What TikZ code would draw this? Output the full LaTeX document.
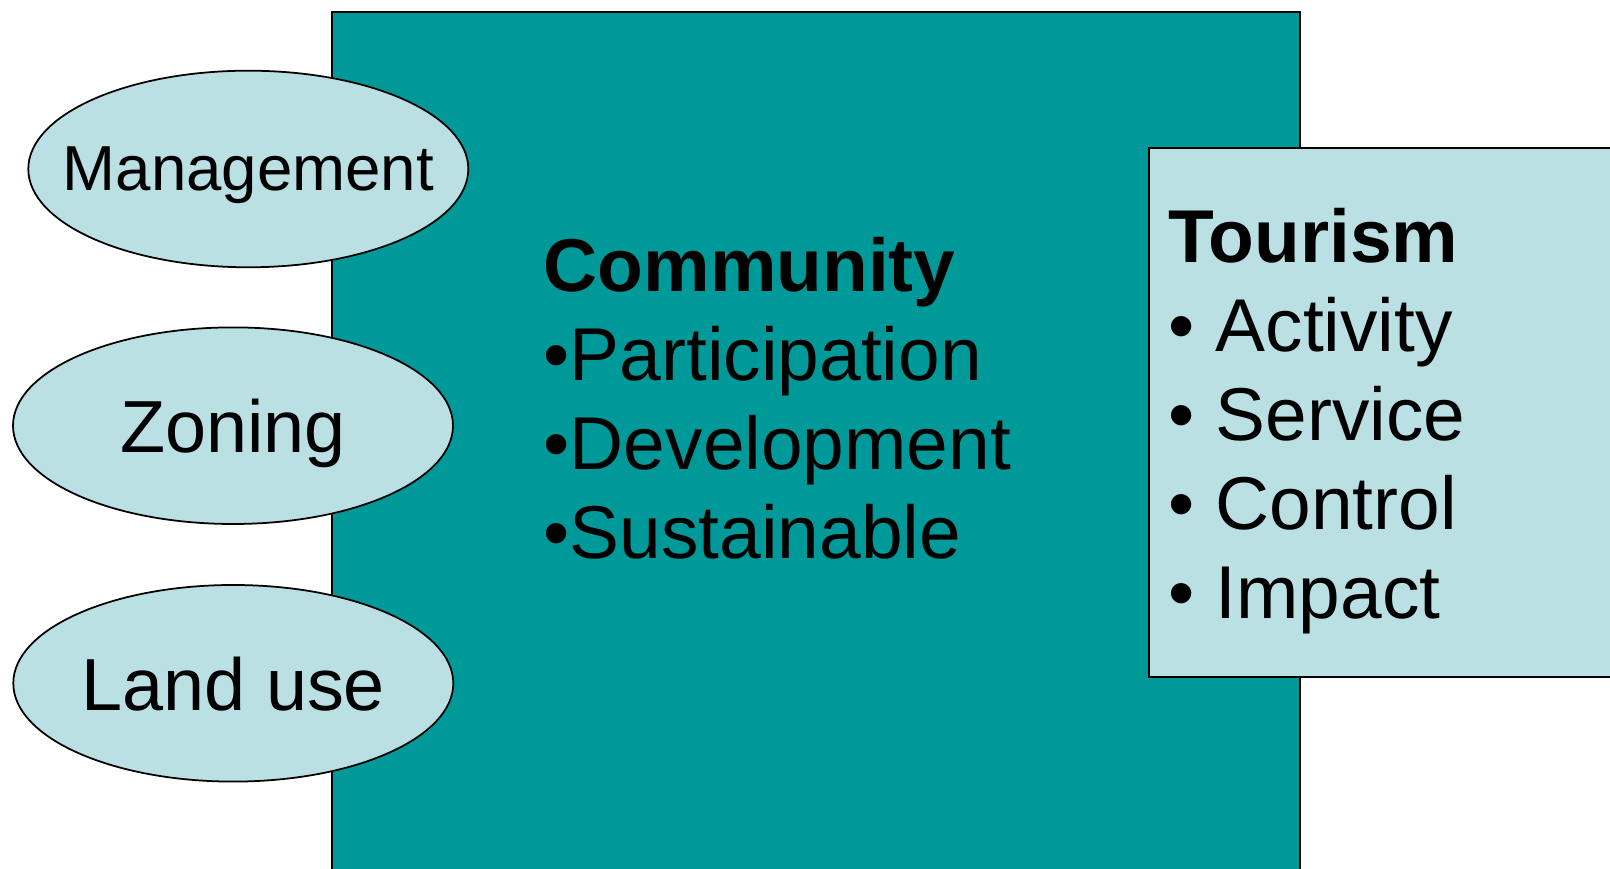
\documentclass[tikz,border=0pt]{standalone}
\usepackage{fontspec}
\setmainfont{Liberation Sans}
\usetikzlibrary{positioning,shapes.geometric}
\definecolor{areateal}{RGB}{0,153,153}
\definecolor{palecyan}{RGB}{187,224,227}
\tikzset{
  area-box/.style={draw=black, line width=0.6pt, fill=areateal, anchor=north west,
    minimum width=9.68cm, minimum height=9cm, inner sep=0pt},
  topic-box/.style={draw=black, line width=0.6pt, fill=palecyan, anchor=north west,
    minimum width=5cm, minimum height=5.293cm, inner sep=0pt},
  theme-ellipse/.style={ellipse, draw=black, line width=0.5pt, fill=palecyan,
    minimum width=4.4cm, minimum height=1.966cm, inner ysep=0pt, inner xsep=-0.6cm,
    text depth=0pt, font=\fontsize{21pt}{25pt}\selectfont},
  list-text/.style={anchor=base west, align=left, inner sep=0pt,
    font=\fontsize{21.3pt}{25.3pt}\selectfont}
}

\begin{document}
\begin{tikzpicture}
\useasboundingbox (0,0) rectangle (16.10,8.69);
\clip (0,0) rectangle (16.10,8.69);
% background areas
\node[area-box] (community) at (3.313, 8.583) {};
\node[topic-box] (tourism) at (11.483, 7.223) {};
% planning themes
\node[theme-ellipse, font=\fontsize{18.1pt}{22pt}\selectfont] (management) at (2.483, 7.00) {Management};
\node[theme-ellipse] (zoning) at (2.33, 4.433) {Zoning};
\node[theme-ellipse] (landuse) at (2.333, 1.857) {Land use};
% lists (anchored on the last baseline)
\node[list-text] (commlist) at (5.43, 3.107)
  {\textbf{Community}\\{\textbullet}Participation\\{\textbullet}Development\\{\textbullet}Sustainable};
\node[list-text] (tourlist) at (11.68, 2.507)
  {\textbf{Tourism}\\{\textbullet} Activity\\{\textbullet} Service\\{\textbullet} Control\\{\textbullet} Impact};
\end{tikzpicture}
\end{document}
